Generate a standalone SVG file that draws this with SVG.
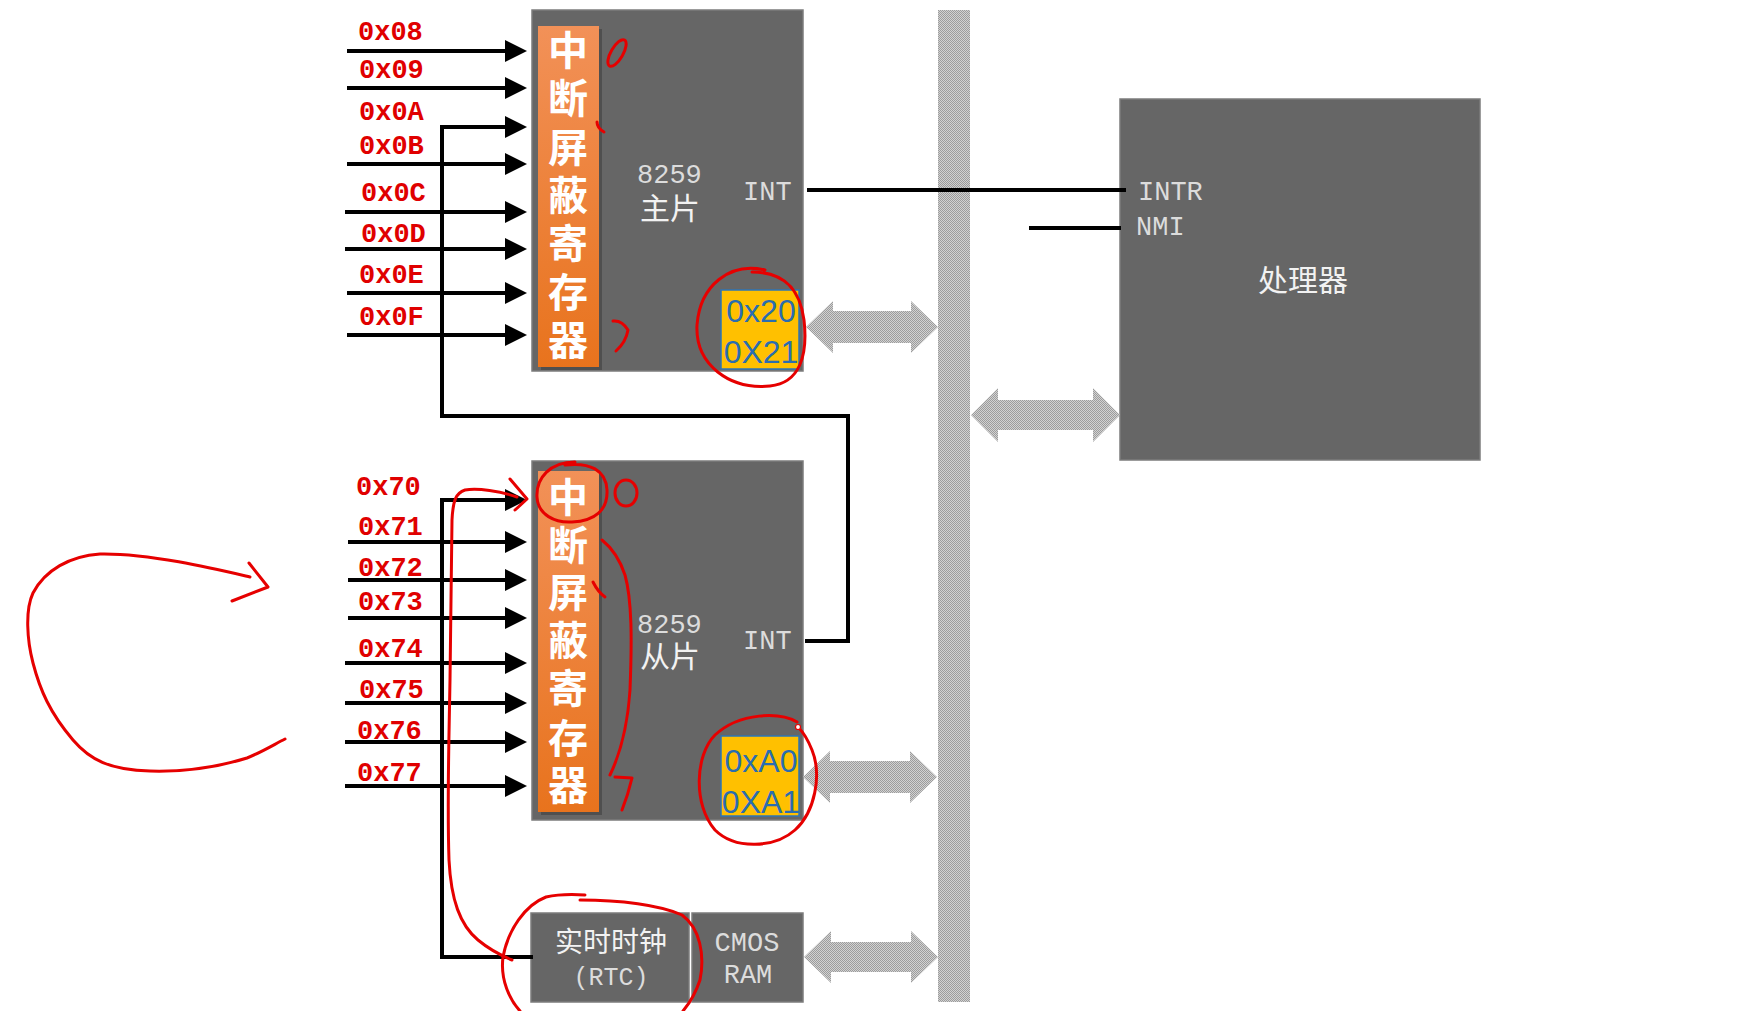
<svg xmlns="http://www.w3.org/2000/svg" width="1747" height="1011" viewBox="0 0 1747 1011">
<defs>
<style>
.box{fill:#666666;stroke:#7c7c7c;stroke-width:1.5}
.bar{fill:url(#og)}
.shadow{fill:#3c3c3c;opacity:0.55}
.mask{font-family:"Noto Sans CJK SC",sans-serif;font-weight:bold;font-size:40px;fill:#ffffff;text-anchor:middle}
.lbl{font-family:"Liberation Mono",monospace;font-weight:bold;font-size:27px;fill:#e00000}
.mono{font-family:"Liberation Mono",monospace;font-size:27px;fill:#dcdcdc}
.cjk{font-family:"Noto Sans CJK SC",sans-serif;font-size:30px;fill:#f2f2f2}
.port{fill:#ffc000;stroke:#2e75b6;stroke-width:1.5}
.ptxt{font-family:"Liberation Sans",Arial,sans-serif;font-size:32px;fill:#2a6db0;text-anchor:middle}
.wire{fill:none;stroke:#000;stroke-width:4}
.arr{fill:none;stroke:#000;stroke-width:4;marker-end:url(#ah)}
.bus{fill:url(#dots)}
.red{fill:none;stroke:#e60000;stroke-width:3;stroke-linecap:round;stroke-linejoin:round}
</style>
<linearGradient id="og" x1="0" y1="0" x2="0" y2="1">
<stop offset="0" stop-color="#f29158"/>
<stop offset="1" stop-color="#e8731d"/>
</linearGradient>
<pattern id="dots" width="2" height="2" patternUnits="userSpaceOnUse">
<rect width="2" height="2" fill="#d2d2d2"/>
<rect width="1" height="1" fill="#9c9c9c"/>
<rect x="1" y="1" width="1" height="1" fill="#9c9c9c"/>
</pattern>
<marker id="ah" markerUnits="userSpaceOnUse" markerWidth="24" markerHeight="24" refX="5" refY="11" orient="auto">
<path d="M0,0 L22,11 L0,22 z" fill="#000"/>
</marker>
</defs>
<rect width="1747" height="1011" fill="#ffffff"/>

<g id="bus">
<rect class="bus" x="938" y="10" width="32" height="992"/>
</g>

<g id="master">
<rect class="box" x="532" y="10" width="271" height="361"/>
<rect class="shadow" x="541" y="29" width="61" height="341"/>
<rect class="bar" x="538" y="26" width="61" height="341"/>
<text class="mask" x="568" y="65">中</text>
<text class="mask" x="568" y="113">断</text>
<text class="mask" x="568" y="162">屏</text>
<text class="mask" x="568" y="210">蔽</text>
<text class="mask" x="568" y="258">寄</text>
<text class="mask" x="568" y="307">存</text>
<text class="mask" x="568" y="355">器</text>
<text class="mono" x="637" y="183">8259</text>
<text class="cjk" x="640" y="219">主片</text>
<text class="mono" x="743" y="200">INT</text>
<rect class="port" x="721" y="290" width="78" height="79"/>
<text class="ptxt" x="761" y="322">0x20</text>
<text class="ptxt" x="761" y="363">0X21</text>
</g>

<g id="slave">
<rect class="box" x="532" y="461" width="271" height="359"/>
<rect class="shadow" x="541" y="474" width="61" height="341"/>
<rect class="bar" x="538" y="471" width="61" height="341"/>
<text class="mask" x="568" y="512">中</text>
<text class="mask" x="568" y="560">断</text>
<text class="mask" x="568" y="607">屏</text>
<text class="mask" x="568" y="655">蔽</text>
<text class="mask" x="568" y="703">寄</text>
<text class="mask" x="568" y="753">存</text>
<text class="mask" x="568" y="800">器</text>
<text class="mono" x="637" y="633">8259</text>
<text class="cjk" x="640" y="667">从片</text>
<text class="mono" x="743" y="649">INT</text>
<rect class="port" x="721" y="736" width="78" height="80"/>
<text class="ptxt" x="761" y="772">0xA0</text>
<text class="ptxt" x="761" y="813">0XA1</text>
</g>

<g id="processor">
<rect class="box" x="1120" y="99" width="360" height="361"/>
<text class="mono" x="1138" y="200">INTR</text>
<text class="mono" x="1136" y="235">NMI</text>
<text class="cjk" x="1303" y="291" text-anchor="middle">处理器</text>
</g>

<g id="rtc">
<rect class="box" x="531" y="913" width="158" height="89"/>
<text class="cjk" x="611" y="952" text-anchor="middle" style="font-size:28px">实时时钟</text>
<text class="mono" x="611" y="985" text-anchor="middle" style="font-size:25px">(RTC)</text>
</g>

<g id="cmos">
<rect class="box" x="692" y="913" width="111" height="89"/>
<text class="mono" x="747" y="951" text-anchor="middle">CMOS</text>
<text class="mono" x="748" y="983" text-anchor="middle">RAM</text>
</g>

<g id="labels">
<text class="lbl" x="358" y="40">0x08</text>
<text class="lbl" x="359" y="78">0x09</text>
<text class="lbl" x="359" y="120">0x0A</text>
<text class="lbl" x="359" y="154">0x0B</text>
<text class="lbl" x="361" y="201">0x0C</text>
<text class="lbl" x="361" y="242">0x0D</text>
<text class="lbl" x="359" y="283">0x0E</text>
<text class="lbl" x="359" y="325">0x0F</text>
<text class="lbl" x="356" y="495">0x70</text>
<text class="lbl" x="358" y="535">0x71</text>
<text class="lbl" x="358" y="576">0x72</text>
<text class="lbl" x="358" y="610">0x73</text>
<text class="lbl" x="358" y="657">0x74</text>
<text class="lbl" x="359" y="698">0x75</text>
<text class="lbl" x="357" y="739">0x76</text>
<text class="lbl" x="357" y="781">0x77</text>
</g>

<g id="connectors">
<path class="arr" d="M347,51 H510"/>
<path class="arr" d="M347,88 H510"/>
<path class="arr" d="M805,641 H848 V416 H442 V127 H510"/>
<path class="arr" d="M347,164 H510"/>
<path class="arr" d="M345,212 H510"/>
<path class="arr" d="M345,249 H510"/>
<path class="arr" d="M347,293 H510"/>
<path class="arr" d="M347,335 H510"/>
<path class="arr" d="M533,957 H442 V500 H510"/>
<path class="arr" d="M348,542 H510"/>
<path class="arr" d="M348,580 H510"/>
<path class="arr" d="M348,618 H510"/>
<path class="arr" d="M345,663 H510"/>
<path class="arr" d="M345,703 H510"/>
<path class="arr" d="M345,742 H510"/>
<path class="arr" d="M345,786 H510"/>
<path class="wire" d="M807,190 H1126"/>
<path class="wire" d="M1029,228 H1121"/>
<polygon class="bus" points="806,327 833,301 833,311 911,311 911,301 938,327 911,353 911,343 833,343 833,353"/>
<polygon class="bus" points="803,777 830,751 830,761 910,761 910,751 937,777 910,803 910,793 830,793 830,803"/>
<polygon class="bus" points="971,415 998,388 998,400 1093,400 1093,388 1120,415 1093,442 1093,430 998,430 998,442"/>
<polygon class="bus" points="804,957 831,931 831,942 911,942 911,931 938,957 911,983 911,972 831,972 831,983"/>
</g>

<g id="annotations">
<ellipse class="red" cx="617" cy="53" rx="6" ry="15" transform="rotate(30 617 53)"/>
<path class="red" d="M597,122 Q597,128 604,132"/>
<path class="red" d="M613,321 Q622,320 628,330 Q626,342 616,351"/>
<path class="red" d="M765,270 C730,262 700,285 697,325 C695,365 730,390 770,386 C800,383 808,355 804,320 C800,290 785,272 752,272"/>
<path class="red" d="M575,462 C550,462 536,478 537,497 C538,515 555,523 572,522 C595,521 608,510 607,490 C606,470 590,462 565,465"/>
<ellipse class="red" cx="626" cy="493" rx="11" ry="13"/>
<path class="red" d="M602,540 C612,548 620,560 625,575 C632,600 632,640 630,690 C628,720 622,750 610,775"/>
<path class="red" d="M615,777 L632,778 Q628,795 622,810"/>
<path class="red" d="M593,582 Q598,592 605,597"/>
<path class="red" d="M797,722 C780,712 740,712 715,735 C695,755 693,805 715,830 C735,850 775,848 795,830 C815,812 822,775 812,750 C808,740 803,732 798,727"/>
<circle cx="798" cy="727" r="2.5" fill="#fff" stroke="#e60000" stroke-width="1.2"/>
<path class="red" d="M517,497 C500,491 478,488 465,490 C456,493 453,500 452,520 C451,560 451,620 450,680 C449,740 447,800 449,860 C451,900 460,925 478,940 C490,950 500,955 512,960"/>
<path class="red" d="M510,479 L527,499 L515,510"/>
<path class="red" d="M585,895 C570,894 555,895 546,897 C525,905 508,930 503,957 C500,980 510,1000 520,1011"/>
<path class="red" d="M580,900 C620,900 660,905 682,915 C700,928 705,955 700,980 C695,995 688,1005 683,1011"/>
<path class="red" d="M250,577 C220,570 150,553 100,554 C70,556 45,570 33,593 C25,610 27,640 33,663 C40,690 50,713 73,740 C90,760 110,770 150,771 C185,772 215,768 247,758 C262,752 275,744 285,739"/>
<path class="red" d="M249,563 L268,587 L232,601"/>
</g>
</svg>
